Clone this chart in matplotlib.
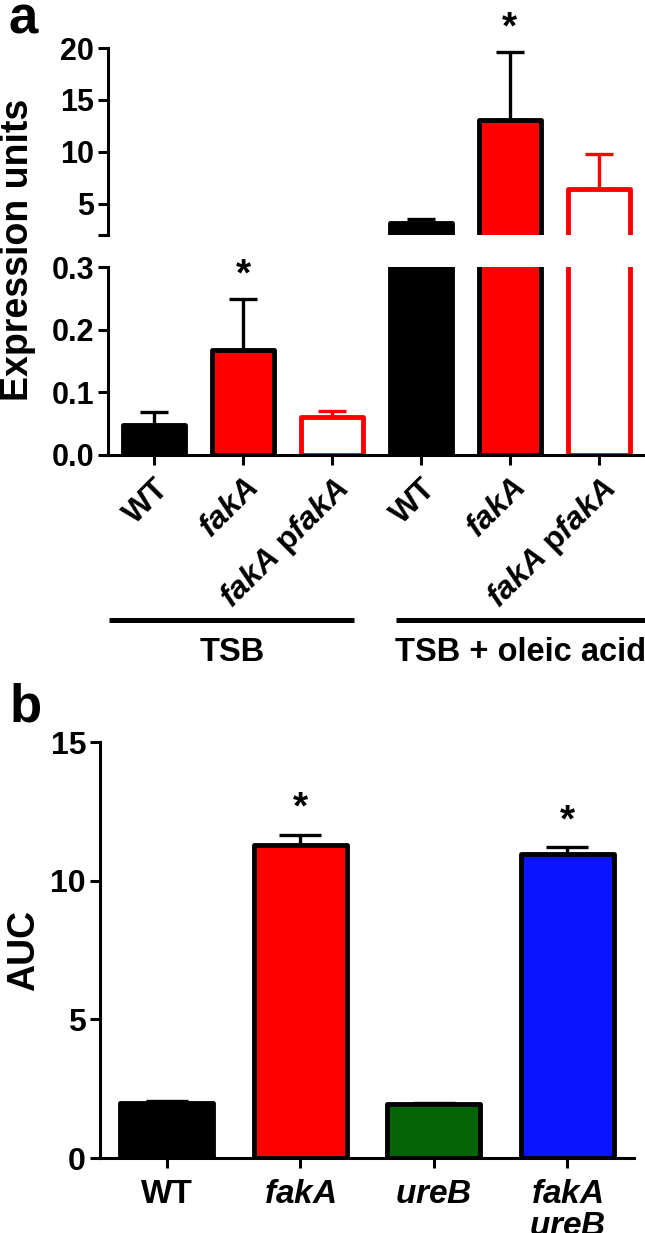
import matplotlib
matplotlib.use("Agg")
import matplotlib.pyplot as plt
import matplotlib.transforms as mtransforms
import numpy as np

plt.rcParams['font.family'] = ['Liberation Sans', 'DejaVu Sans']
plt.rcParams['font.weight'] = 'bold'
plt.rcParams['mathtext.fontset'] = 'custom'
plt.rcParams['mathtext.it'] = 'Liberation Sans:italic:bold'
plt.rcParams['mathtext.rm'] = 'Liberation Sans:bold'
plt.rcParams['mathtext.bf'] = 'Liberation Sans:bold'

# ---------------- data: panel a ----------------
a_labels = ['WT', r'$\it{fakA}$', r'$\it{fakA}$ p$\it{fakA}$',
            'WT', r'$\it{fakA}$', r'$\it{fakA}$ p$\it{fakA}$']
a_means = [0.048, 0.168, 0.060, 3.2, 13.1, 6.4]
a_sem = [0.020, 0.081, 0.010, 0.3, 6.5, 3.4]
a_sig = [False, True, False, False, True, False]
a_groups = ['TSB', 'TSB + oleic acid']
a_lo_ticks = [0.0, 0.1, 0.2, 0.3]
a_hi_ticks = [2, 5, 10, 15, 20]
a_hi_ticklabels = ['', '5', '10', '15', '20']

# ---------------- data: panel b ----------------
b_labels = [r'WT', r'$\it{fakA}$', r'$\it{ureB}$', r'$\it{fakA}$' + '\n' + r'$\it{ureB}$']
b_means = [2.0, 11.3, 1.93, 10.95]
b_sem = [0.04, 0.35, 0.07, 0.25]
b_sig = [False, True, False, True]
b_ticks = [0, 5, 10, 15]

# styles
a_face = ['black', '#FF0000', 'white', 'black', '#FF0000', 'white']
a_edge = ['black', 'black', '#FF0000', 'black', 'black', '#FF0000']
b_face = ['black', '#FF0000', '#056405', '#0A14FF']

W, H = 645, 1233
fig = plt.figure(figsize=(W / 100, H / 100), dpi=100)

def fy(px):
    return 1 - px / H

SP = 2.2
ax_lo = fig.add_axes([108 / W, fy(455), 1 - 108 / W, fy(267) - fy(455)])
ax_hi = fig.add_axes([108 / W, fy(235), 1 - 108 / W, fy(48) - fy(235)])
ax_b = fig.add_axes([100 / W, fy(1158), 534 / W, fy(742) - fy(1158)])

xa = np.arange(len(a_means))
for ax in (ax_lo, ax_hi):
    ax.bar(xa, a_means, width=0.7, color=a_face, edgecolor=a_edge,
           linewidth=3.5, zorder=3, joinstyle='round')
    for i in range(len(a_means)):
        ax.errorbar(xa[i], a_means[i], yerr=[[0], [a_sem[i]]], fmt='none',
                    ecolor=a_edge[i], elinewidth=2.4, capsize=10, capthick=2.4,
                    zorder=2)
    ax.set_xlim(-0.52, 5.52)
    for s in ('top', 'right'):
        ax.spines[s].set_visible(False)
    ax.spines['left'].set_linewidth(SP)
    ax.spines['bottom'].set_linewidth(SP)
    ax.spines['bottom'].set_zorder(5)
    ax.tick_params(axis='y', width=SP, length=7, labelsize=22, pad=3)

ax_lo.set_ylim(0, 0.3)
ax_lo.set_yticks(a_lo_ticks)
ax_lo.set_yticklabels(['0.0', '0.1', '0.2', '0.3'])
ax_lo.set_xticks(xa)
ax_lo.set_xticklabels(a_labels, rotation=45, ha='right', rotation_mode='anchor',
                      fontsize=23, fontweight='bold')
ax_lo.tick_params(axis='x', width=SP, length=7, pad=6)

ax_hi.set_ylim(2, 20)
ax_hi.set_yticks(a_hi_ticks)
ax_hi.set_yticklabels(a_hi_ticklabels)
ax_hi.spines['bottom'].set_visible(False)
ax_hi.set_xticks([])

for i in range(len(a_means)):
    if a_sig[i]:
        ax = ax_lo if a_means[i] < 0.3 else ax_hi
        ax.annotate('*', xy=(xa[i], a_means[i] + a_sem[i]), xytext=(0, 4),
                    textcoords='offset points', ha='center', va='bottom',
                    fontsize=28, fontweight='bold', annotation_clip=False)

fig.text(18 / W, fy(250), 'Expression units', rotation=90, ha='center',
         va='center', fontsize=27, fontweight='bold')
fig.text(8 / W, fy(33), 'a', fontsize=38, fontweight='bold', ha='left',
         va='baseline')

# group lines
trans = mtransforms.blended_transform_factory(ax_lo.transData, ax_lo.transAxes)
y_line = (455 - 620) / (455 - 267)
y_text = (455 - 653) / (455 - 267)
for (x0, x1), name in zip([(-0.506, 2.25), (2.72, 5.6)], a_groups):
    ax_lo.plot([x0, x1], [y_line, y_line], color='black', lw=3.6,
               transform=trans, clip_on=False, solid_capstyle='butt')
    ax_lo.text((x0 + min(x1, 5.52)) / 2, y_text, name, transform=trans,
               ha='center', va='center', fontsize=23.5, fontweight='bold')

# ---------------- panel b ----------------
xb = np.arange(len(b_means))
ax_b.bar(xb, b_means, width=0.7, color=b_face, edgecolor='black',
         linewidth=3.5, zorder=3, joinstyle='round')
ax_b.errorbar(xb, b_means, yerr=[np.zeros(len(b_sem)), b_sem], fmt='none',
              ecolor='black', elinewidth=2.4, capsize=15, capthick=2.4, zorder=2)
for i in range(len(b_means)):
    if b_sig[i]:
        ax_b.annotate('*', xy=(xb[i], b_means[i] + b_sem[i]), xytext=(0, 6),
                      textcoords='offset points', ha='center', va='bottom',
                      fontsize=28, fontweight='bold')
ax_b.set_xlim(-0.5, 3.5)
ax_b.set_ylim(0, 15)
ax_b.set_yticks(b_ticks)
ax_b.set_xticks(xb)
ax_b.set_xticklabels(b_labels, fontsize=24, fontweight='bold', va='top',
                     linespacing=1.05)
for s in ('top', 'right'):
    ax_b.spines[s].set_visible(False)
ax_b.spines['left'].set_linewidth(SP)
ax_b.spines['bottom'].set_linewidth(SP)
ax_b.spines['bottom'].set_zorder(5)
ax_b.tick_params(axis='y', width=SP, length=7, labelsize=23, pad=3)
ax_b.tick_params(axis='x', width=SP, length=7, pad=8)
ax_b.set_ylabel('AUC', fontsize=27, fontweight='bold', labelpad=6)
fig.text(10 / W, fy(722), 'b', fontsize=38, fontweight='bold', ha='left',
         va='baseline')

fig.savefig('out.png', dpi=100)
